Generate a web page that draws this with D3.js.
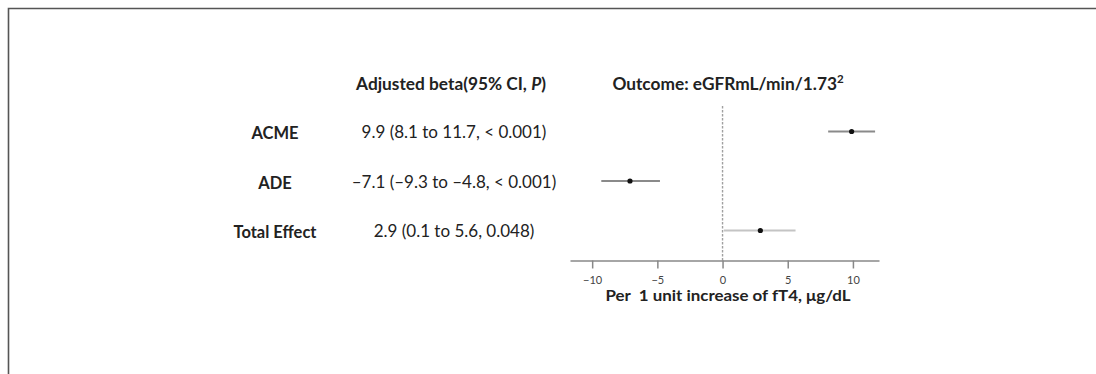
<!DOCTYPE html>
<html>
<head>
<meta charset="utf-8">
<script src="https://cdn.jsdelivr.net/npm/d3@7"></script>
<style>
  html, body { margin: 0; padding: 0; background: #fff; }
  svg { display: block; font-family: Lato, "Open Sans", sans-serif; }
</style>
</head>
<body>
<svg id="chart" width="1096" height="374"></svg>
<script>
// Mediation effects of fT4 on eGFR
const effects = ["ACME", "ADE", "Total Effect"];
const beta = [9.9, -7.1, 2.9];
const ciLow = [8.1, -9.3, 0.1];
const ciHigh = [11.7, -4.8, 5.6];
const pValues = ["< 0.001", "< 0.001", "0.048"];
const xTicks = [-10, -5, 0, 5, 10];

const fmt = v => String(v).replace("-", "\u2013");
const summary = effects.map((e, i) =>
  `${fmt(beta[i])} (${fmt(ciLow[i])} to ${fmt(ciHigh[i])}, ${pValues[i]})`);

const svg = d3.select("#chart");

// outer frame (top and left edges)
svg.append("path")
  .attr("d", "M8.5,374 V8.5 H1096")
  .attr("fill", "none")
  .attr("stroke", "#555")
  .attr("stroke-width", 1.6);

const x = d3.scaleLinear().domain([-11.7, 12]).range([570, 879]);
const y = d3.scalePoint().domain(effects).range([131.5, 230.5]);
const axisY = 260.5;

// column headers
svg.append("text")
  .attr("x", 451).attr("y", 90)
  .attr("text-anchor", "middle")
  .attr("font-size", 17.3).attr("font-weight", "bold").attr("fill", "#222")
  .call(t => {
    t.append("tspan").text("Adjusted beta(95% CI, ");
    t.append("tspan").attr("font-style", "italic").text("P");
    t.append("tspan").text(")");
  });

svg.append("text")
  .attr("x", 728).attr("y", 90)
  .attr("text-anchor", "middle")
  .attr("font-size", 17.3).attr("font-weight", "bold").attr("fill", "#222")
  .call(t => {
    t.append("tspan").text("Outcome: eGFRmL/min/1.73");
    t.append("tspan").attr("font-size", 11.5).attr("dy", -7).text("2");
  });

// row labels and estimates
svg.append("g").selectAll("text")
  .data(effects)
  .join("text")
  .attr("x", 275)
  .attr("y", d => y(d) + 7.5)
  .attr("text-anchor", "middle")
  .attr("font-size", 16.5).attr("font-weight", "bold").attr("fill", "#222")
  .text(d => d);

svg.append("g").selectAll("text")
  .data(summary)
  .join("text")
  .attr("x", 454)
  .attr("y", (d, i) => y(effects[i]) + 6.5)
  .attr("text-anchor", "middle")
  .attr("font-size", 17).attr("fill", "#222")
  .text(d => d);

// reference line at zero
svg.append("line")
  .attr("x1", x(0)).attr("x2", x(0))
  .attr("y1", 106).attr("y2", axisY)
  .attr("stroke", "#a0a0a0").attr("stroke-width", 1.4)
  .attr("stroke-dasharray", "2.5,1.5");

// axis
const axis = svg.append("g")
  .attr("transform", `translate(0,${axisY})`)
  .call(d3.axisBottom(x).tickValues(xTicks).tickSize(8).tickPadding(8).tickSizeOuter(0));
axis.select(".domain").attr("stroke", "#888").attr("stroke-width", 1.5);
axis.selectAll(".tick line").attr("stroke", "#888").attr("stroke-width", 1.5);
axis.selectAll(".tick text")
  .attr("font-family", "Lato, sans-serif")
  .attr("font-size", 11).attr("fill", "#444");

svg.append("text")
  .attr("x", 728).attr("y", 300.5)
  .attr("text-anchor", "middle")
  .attr("font-size", 15).attr("font-weight", "bold").attr("fill", "#222")
  .attr("textLength", 245).attr("lengthAdjust", "spacingAndGlyphs")
  .style("white-space", "pre")
  .text("Per  1 unit increase of fT4, \u03bcg/dL");

// confidence intervals and point estimates
const ciColors = ["#8a8a8a", "#8a8a8a", "#c4c4c4"];
svg.append("g").selectAll("line")
  .data(effects)
  .join("line")
  .attr("x1", (d, i) => x(ciLow[i]))
  .attr("x2", (d, i) => x(ciHigh[i]))
  .attr("y1", d => y(d)).attr("y2", d => y(d))
  .attr("stroke", (d, i) => ciColors[i])
  .attr("stroke-width", 2);

svg.append("g").selectAll("circle")
  .data(effects)
  .join("circle")
  .attr("cx", (d, i) => x(beta[i]))
  .attr("cy", d => y(d))
  .attr("r", 2.6)
  .attr("fill", "#111");
</script>
</body>
</html>
